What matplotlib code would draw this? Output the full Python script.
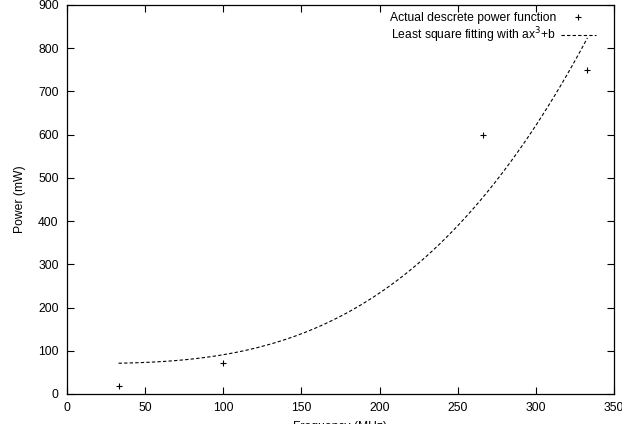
import matplotlib
matplotlib.use('Agg')
import matplotlib.pyplot as plt
import numpy as np

freq = [33, 100, 266, 333]
power = [18, 72, 600, 750]
xticks = [0, 50, 100, 150, 200, 250, 300, 350]
yticks = [0, 100, 200, 300, 400, 500, 600, 700, 800, 900]


def main():
    plt.rcParams['font.family'] = ['Liberation Sans', 'DejaVu Sans']
    plt.rcParams['font.size'] = 8.7
    fig = plt.figure(figsize=(6.22, 4.24), dpi=100)
    ax = fig.add_axes([0.1077, 0.0708, 0.8794, 0.9175])

    x = np.array(freq, dtype=float)
    y = np.array(power, dtype=float)
    # least square fit of y = a*x^3 + b
    a, b = np.polyfit(x ** 3, y, 1)
    xf = np.linspace(x.min(), x.max(), 200)

    ax.plot(x, y, 'k+', ms=5, mew=0.8, label='Actual descrete power function')
    ax.plot(xf, a * xf ** 3 + b, 'k--', lw=0.8, dashes=(3, 2),
            label='Least square fitting with ax$^3$+b')

    ax.set_xlim(0, 350)
    ax.set_ylim(0, 900)
    ax.set_xticks(xticks)
    ax.set_yticks(yticks)
    ax.tick_params(direction='in', top=True, right=True, length=5, width=0.8,
                   labelsize=8.7, pad=6)
    for s in ax.spines.values():
        s.set_linewidth(0.9)
    ax.set_xlabel('Frequency (MHz)', labelpad=5)
    ax.set_ylabel('Power (mW)', labelpad=9)

    ax.legend(loc='upper right', frameon=False, markerfirst=False, fontsize=8.7,
              handlelength=2.9, handletextpad=0.4, labelspacing=0.1,
              borderaxespad=0.2, bbox_to_anchor=(0.98, 1.0))
    fig.savefig('out.png', dpi=100)


if __name__ == '__main__':
    main()
